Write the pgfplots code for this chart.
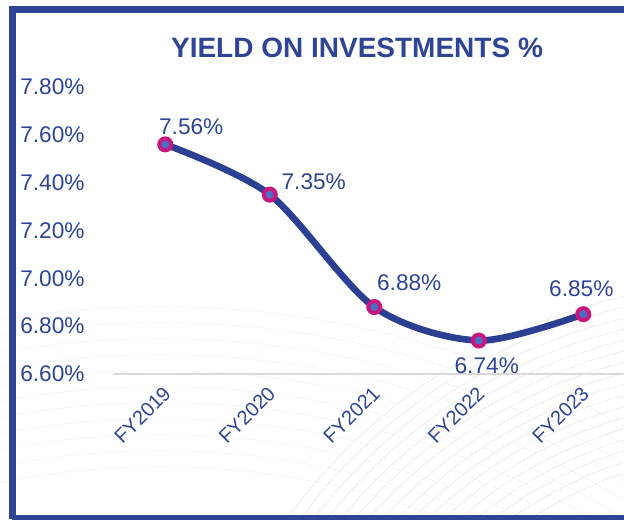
\documentclass[border=0pt]{standalone}
\usepackage{fontspec}
\setmainfont{Liberation Sans}
\usepackage{pgfplots}
\usepackage{pgfplotstable}
\pgfplotsset{compat=1.18}
\pgfkeys{/pgf/number format/assume math mode=true}
\definecolor{navy}{HTML}{2E4595}
\definecolor{linec}{HTML}{2B3F93}
\definecolor{mag}{HTML}{C8187F}
\definecolor{dotc}{HTML}{4A6FC4}

% x y dx dy (label offsets in pt)
\pgfplotstableread{
x y dx dy
0 7.56 19.5 13.5
1 7.35 33 9.75
2 6.88 26.25 18
3 6.74 6 -18.75
4 6.85 -1.5 19.5
}\yielddata

\begin{document}
\begin{tikzpicture}
\path[use as bounding box] (0,0) rectangle (468pt,390pt);
\clip (0,0) rectangle (468pt,390pt);
% faint background arcs
\foreach \r in {300,308,...,430} {
  \draw[gray!16, line width=0.5pt] (562pt,-250pt) circle (\r pt);
}
\foreach \r in {600,612,...,720} {
  \draw[gray!9, line width=0.5pt] (120pt,-560pt) circle (\r pt);
}
\draw[navy, line width=5.25pt] (9pt,0.75pt) -- (9pt,382.9pt) -- (480pt,382.9pt);
\draw[navy, line width=5.25pt] (9pt,0.75pt) -- (480pt,0.75pt);
\node[navy, font=\bfseries\fontsize{21}{24}\selectfont] at (267.75pt,354pt) {YIELD ON INVESTMENTS \%};
\begin{axis}[
  at={(84.75pt,109.5pt)}, anchor=south west,
  scale only axis, width=391.9pt, height=215.25pt,
  xmin=-0.5, xmax=4.5, ymin=6.6, ymax=7.8,
  axis x line*=bottom, axis y line*=left,
  x axis line style={draw=gray!30, line width=1.5pt, -},
  y axis line style={draw=none},
  xtick={0,1,2,3,4},
  xticklabels={FY2019,FY2020,FY2021,FY2022,FY2023},
  ytick={6.6,6.8,7.0,7.2,7.4,7.6,7.8},
  yticklabels={6.60\%,6.80\%,7.00\%,7.20\%,7.40\%,7.60\%,7.80\%},
  major tick length=0pt,
  xticklabel style={rotate=45, anchor=north east, navy, font=\fontsize{15}{18}\selectfont, inner sep=1pt, xshift=-6.4pt, yshift=-3.2pt},
  yticklabel style={anchor=west, xshift=-69.75pt, inner sep=0pt, navy, font=\fontsize{17}{20}\selectfont},
  clip=false,
]
\addplot[linec, line width=5pt, smooth, tension=0.5, mark=*, mark size=4.5pt,
  mark options={draw=mag, fill=dotc, line width=3pt},
  point meta=\thisrow{y},
  visualization depends on={\thisrow{dx} \as \dx},
  visualization depends on={\thisrow{dy} \as \dy},
  nodes near coords={\pgfmathprintnumber[fixed,precision=2,fixed zerofill]{\pgfplotspointmeta}\%},
  nodes near coords style={anchor=center, xshift=\dx pt, yshift=\dy pt, navy, font=\fontsize{17}{20}\selectfont},
] table[x=x, y=y] {\yielddata};
\end{axis}
\end{tikzpicture}
\end{document}
